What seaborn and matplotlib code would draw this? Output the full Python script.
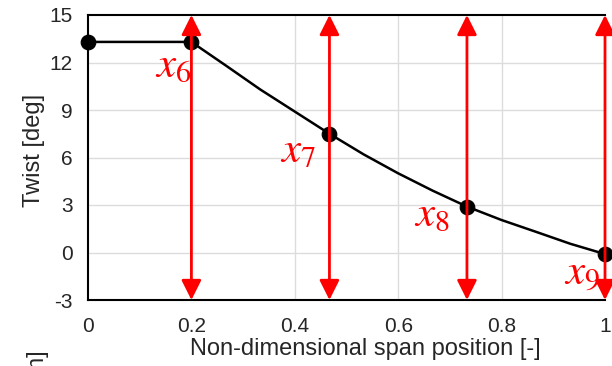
import matplotlib
matplotlib.use('Agg')
import matplotlib.pyplot as plt
import seaborn as sns
import pandas as pd

# design variable stations (span position) and twist at each
span_pts = [0.0, 0.2, 0.467, 0.733, 1.0]
twist_pts = [13.3, 13.3, 7.5, 2.9, -0.1]

# twist distribution line
span_line = [0.0, 0.2, 0.267, 0.333, 0.4, 0.467, 0.533, 0.6, 0.667,
             0.733, 0.8, 0.867, 0.933, 1.0]
twist_line = [13.3, 13.3, 11.8, 10.3, 8.9, 7.5, 6.2, 5.0, 3.9,
              2.9, 2.05, 1.3, 0.55, -0.1]

# design variable arrows
dv_span = [0.2, 0.467, 0.733, 1.0]
dv_names = ['$x_6$', '$x_7$', '$x_8$', '$x_9$']
dv_label_xy = [(0.164, 11.8), (0.406, 6.4), (0.665, 2.4), (0.955, -1.3)]

x_ticks = [0, 0.2, 0.4, 0.6, 0.8, 1]
x_ticklabels = ['0', '0.2', '0.4', '0.6', '0.8', '1']
y_ticks = [-3, 0, 3, 6, 9, 12, 15]

sns.set_style('white')
plt.rcParams['font.family'] = ['Liberation Sans', 'DejaVu Sans']
plt.rcParams['mathtext.fontset'] = 'stix'
plt.rcParams['axes.unicode_minus'] = False

line_df = pd.DataFrame({'span': span_line, 'twist': twist_line})
pts_df = pd.DataFrame({'span': span_pts, 'twist': twist_pts})

fig = plt.figure(figsize=(6.12, 3.66), dpi=100)
ax = fig.add_axes([88 / 612, 66 / 366, 517 / 612, 285 / 366])

# grid
for xv in x_ticks[1:-1]:
    ax.axvline(xv, color='#dcdcdc', lw=1.0, zorder=0)
for yv in y_ticks[1:-1]:
    ax.axhline(yv, color='#dcdcdc', lw=1.0, zorder=0)

sns.lineplot(data=line_df, x='span', y='twist', ax=ax, color='black',
             lw=1.8, sort=False, zorder=3)
sns.scatterplot(data=pts_df, x='span', y='twist', ax=ax, color='black',
                s=110, edgecolor='black', zorder=4, clip_on=False)

# red double-headed arrows for the design variables
for xv in dv_span:
    ax.annotate('', xy=(xv, 15), xytext=(xv, -3),
                arrowprops=dict(arrowstyle='<|-|>', color='red', lw=2,
                                mutation_scale=30, shrinkA=0, shrinkB=0),
                zorder=5, annotation_clip=False)

for name, (xx, yy) in zip(dv_names, dv_label_xy):
    ax.text(xx, yy, name, color='red', fontsize=31, ha='center',
            va='center', zorder=6)

ax.set_xlim(0, 1)
ax.set_ylim(-3, 15)
ax.set_xticks(x_ticks)
ax.set_xticklabels(x_ticklabels)
ax.set_yticks(y_ticks)
ax.tick_params(axis='both', labelsize=15, length=0)
ax.tick_params(axis='x', pad=12)
ax.tick_params(axis='y', pad=11)
ax.set_xlabel('Non-dimensional span position [-]', fontsize=17)
ax.set_ylabel('Twist [deg]', fontsize=17)
ax.xaxis.set_label_coords(0.536, -0.135)
ax.yaxis.set_label_coords(-0.083, 0.526)

for side in ['left', 'bottom', 'top']:
    ax.spines[side].set_color('black')
    ax.spines[side].set_linewidth(1.5)
ax.spines['right'].set_visible(False)

# cut-off label of the neighbouring panel
fig.text(38 / 612, 16 / 366, 'Chord [m]', rotation=90, fontsize=17,
         ha='center', va='top')

fig.savefig('out.png', dpi=100)
